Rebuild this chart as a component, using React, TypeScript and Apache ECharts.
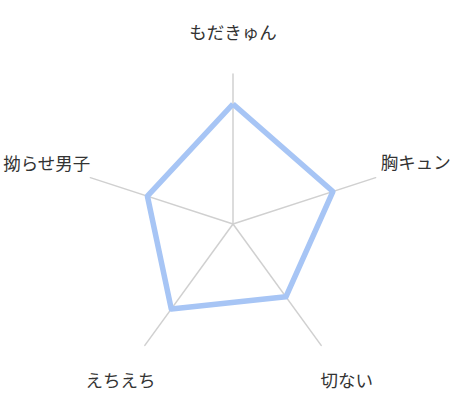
import React, { useEffect, useRef } from "react";
import * as echarts from "echarts";

// listed counter-clockwise from the top, the way the radar lays them out
const indicators = ["もだきゅん", "拗らせ男子", "えちえち", "切ない", "胸キュン"];
const maxValue = 10;
const scores = [8, 6, 7, 6, 7];

// nudges for each axis name: [top, right, bottom, left]
const namePadding = [
    [0, 0, 54, 0],
    [0, 19, 42, 0],
    [100, 1, 0, 0],
    [100, 0, 0, 11],
    [0, 0, 44, 24]
];

const App = () => {
    const chartRef = useRef<HTMLDivElement>(null);

    useEffect(() => {
        if (!chartRef.current) return;
        const chart = echarts.init(chartRef.current, null, { renderer: "svg" });

        const rich = {};
        namePadding.forEach((p, i) => {
            rich["n" + i] = {
                color: "#333",
                fontSize: 17.5,
                fontFamily: "'Noto Sans CJK JP', sans-serif",
                padding: p
            };
        });

        chart.setOption({
            animation: false,
            radar: {
                center: [233, 224],
                radius: 150,
                startAngle: 90,
                shape: "polygon",
                splitNumber: 1,
                indicator: indicators.map(name => ({ name, max: maxValue })),
                nameGap: -20,
                axisName: {
                    color: "#333",
                    fontSize: 17.5,
                    fontFamily: "'Noto Sans CJK JP', sans-serif",
                    formatter: (name: string) => `{n${indicators.indexOf(name)}|${name}}`,
                    rich
                },
                axisLine: { lineStyle: { color: "#d0d0d0", width: 1.5 } },
                splitLine: { show: false },
                splitArea: { show: false },
                axisTick: { show: false },
                axisLabel: { show: false }
            },
            series: [
                {
                    type: "radar",
                    symbol: "none",
                    lineStyle: { color: "#a7c5f5", width: 5.5 },
                    data: [{ value: scores, name: "score" }]
                }
            ]
        });

        return () => chart.dispose();
    }, []);

    return (
        <div
            ref={chartRef}
            style={{ position: "absolute", left: 0, top: 0, width: "458px", height: "401px" }}
        />
    );
};

export default App;
